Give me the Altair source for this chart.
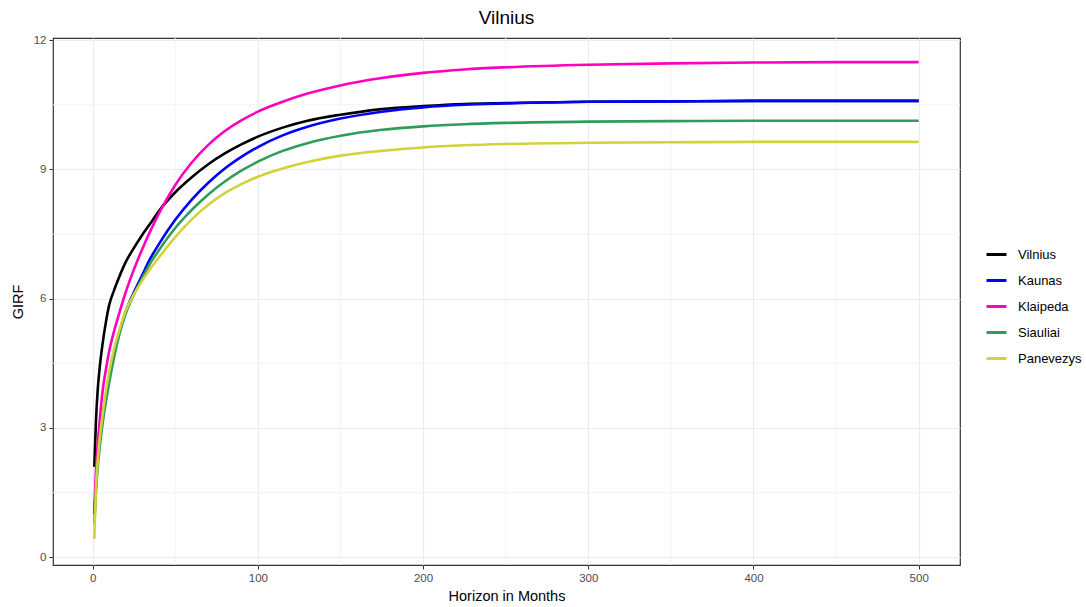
import altair as alt
import pandas as pd

horizon = [1, 2, 3, 4, 6, 8, 10, 13, 16, 20, 25, 30, 35, 40, 50, 60, 70, 80, 90, 100,
           115, 130, 150, 175, 200, 225, 250, 300, 350, 400, 450, 500]

vilnius = [2.1, 3.15, 3.85, 4.3, 4.95, 5.45, 5.85, 6.2, 6.5, 6.85, 7.18, 7.48, 7.75,
           8.03, 8.47, 8.82, 9.12, 9.37, 9.58, 9.76, 9.97, 10.13, 10.27, 10.40, 10.47,
           10.52, 10.54, 10.57, 10.58, 10.59, 10.59, 10.59]
kaunas = [1.0, 1.68, 2.2, 2.6, 3.25, 3.75, 4.2, 4.75, 5.2, 5.7, 6.15, 6.55, 6.94,
          7.26, 7.83, 8.30, 8.69, 9.02, 9.29, 9.52, 9.79, 9.99, 10.18, 10.34, 10.44,
          10.50, 10.53, 10.57, 10.58, 10.59, 10.59, 10.59]
klaipeda = [1.1, 2.0, 2.6, 3.05, 3.85, 4.35, 4.78, 5.25, 5.65, 6.15, 6.68, 7.15, 7.58,
            7.97, 8.64, 9.16, 9.57, 9.89, 10.14, 10.34, 10.57, 10.76, 10.95, 11.12,
            11.24, 11.32, 11.37, 11.43, 11.46, 11.48, 11.49, 11.49]
siauliai = [0.78, 1.5, 2.05, 2.45, 3.1, 3.6, 4.05, 4.65, 5.15, 5.65, 6.1, 6.48, 6.83,
            7.12, 7.64, 8.06, 8.42, 8.72, 8.97, 9.18, 9.43, 9.61, 9.78, 9.92, 10.00,
            10.05, 10.08, 10.11, 10.12, 10.13, 10.13, 10.13]
panevezys = [0.43, 1.6, 2.2, 2.65, 3.3, 3.85, 4.3, 4.85, 5.25, 5.72, 6.1, 6.42, 6.7,
             6.95, 7.43, 7.84, 8.18, 8.45, 8.66, 8.83, 9.02, 9.17, 9.32, 9.43, 9.51,
             9.56, 9.59, 9.62, 9.63, 9.64, 9.64, 9.64]

series_names = ["Vilnius", "Kaunas", "Klaipeda", "Siauliai", "Panevezys"]
series_values = [vilnius, kaunas, klaipeda, siauliai, panevezys]
series_colors = ["#000000", "#0000FF", "#FF00BF", "#2E9D5A", "#D2D23C"]

x_ticks = [0, 100, 200, 300, 400, 500]
y_ticks = [0, 3, 6, 9, 12]
x_minor = [50, 150, 250, 350, 450]
y_minor = [1.5, 4.5, 7.5, 10.5]

rows = []
for name, vals in zip(series_names, series_values):
    for h, v in zip(horizon, vals):
        rows.append({"Horizon": h, "GIRF": v, "Region": name})
df = pd.DataFrame(rows)

xscale = alt.Scale(domain=[-24, 525], nice=False, zero=False)
yscale = alt.Scale(domain=[-0.18, 12.05], nice=False, zero=False)

FONT = "Liberation Sans"

x_axis = alt.Axis(
    values=x_ticks, title="Horizon in Months", grid=True, gridColor="#EBEBEB",
    gridWidth=1.2, domain=False, tickColor="#333333", tickSize=4,
    labelColor="#4D4D4D", labelFontSize=11.5, labelFont=FONT,
    labelPadding=3, titleFont=FONT, titleFontSize=14.5,
    titleFontWeight="normal", titleColor="#000000", titlePadding=6,
)
y_axis = alt.Axis(
    values=y_ticks, title="GIRF", grid=True, gridColor="#EBEBEB",
    gridWidth=1.2, domain=False, tickColor="#333333", tickSize=4,
    labelColor="#4D4D4D", labelFontSize=11.5, labelFont=FONT,
    labelPadding=3, titleFont=FONT, titleFontSize=14.5,
    titleFontWeight="normal", titleColor="#000000", titlePadding=8,
)

minor_x = alt.Chart(pd.DataFrame({"Horizon": x_minor})).mark_rule(
    color="#F3F3F3", strokeWidth=1
).encode(x=alt.X("Horizon:Q", scale=xscale, axis=x_axis))

minor_y = alt.Chart(pd.DataFrame({"GIRF": y_minor})).mark_rule(
    color="#F3F3F3", strokeWidth=1
).encode(y=alt.Y("GIRF:Q", scale=yscale, axis=y_axis))

lines = alt.Chart(df).mark_line(strokeWidth=2.6, interpolate="monotone").encode(
    x=alt.X("Horizon:Q", scale=xscale, axis=x_axis),
    y=alt.Y("GIRF:Q", scale=yscale, axis=y_axis),
    color=alt.Color(
        "Region:N",
        sort=series_names,
        scale=alt.Scale(domain=series_names, range=series_colors),
        legend=alt.Legend(
            title=None, orient="none", legendX=932, legendY=205,
            symbolType="stroke", symbolSize=400, symbolStrokeWidth=3,
            labelFont=FONT, labelFontSize=13, labelColor="#000000",
            labelOffset=10, rowPadding=7, padding=0,
        ),
    ),
    detail="Region:N",
)

chart = alt.layer(minor_x, minor_y, lines).properties(
    width=907,
    height=527,
    autosize=alt.AutoSizeParams(type="none"),
    padding={"left": 53, "top": 38, "right": 126, "bottom": 42},
    title=alt.TitleParams(
        "Vilnius", font=FONT, fontSize=19, fontWeight="normal", color="#000000",
        anchor="middle", offset=6,
    ),
).configure_view(stroke="#333333", strokeWidth=1.2)

chart.save("out.html", embed_options={"renderer": "svg", "actions": False})
